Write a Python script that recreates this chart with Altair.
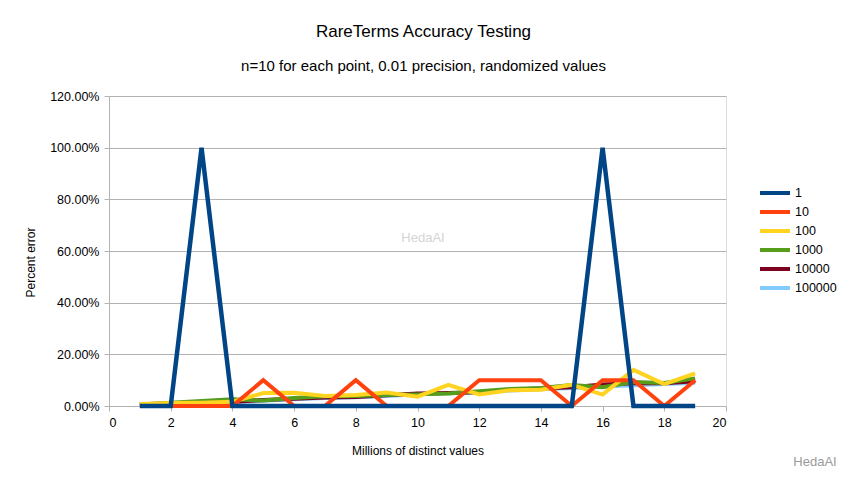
import altair as alt
import pandas as pd

x_vals = list(range(1, 20))
series_names = ["1", "10", "100", "1000", "10000", "100000"]
colors = ["#004586", "#ff420e", "#ffd320", "#579d1c", "#7e0021", "#83caff"]

s1 = [0, 0, 1.0, 0, 0, 0, 0, 0, 0, 0, 0, 0, 0, 0, 0, 1.0, 0, 0, 0]
s10 = [0, 0, 0, 0, 0.10, 0, 0, 0.10, 0, 0, 0, 0.10, 0.10, 0.10, 0, 0.10, 0.10, 0, 0.10]
s100 = [0.008, 0.012, 0.013, 0.016, 0.050, 0.051, 0.039, 0.043, 0.052, 0.036, 0.082, 0.045, 0.061, 0.063, 0.082, 0.044, 0.140, 0.085, 0.126]
s1000 = [0.006, 0.013, 0.019, 0.026, 0.021, 0.031, 0.038, 0.039, 0.043, 0.045, 0.048, 0.057, 0.066, 0.070, 0.081, 0.073, 0.093, 0.089, 0.107]
s10000 = [0.007, 0.010, 0.013, 0.016, 0.023, 0.028, 0.033, 0.035, 0.042, 0.048, 0.050, 0.053, 0.063, 0.068, 0.073, 0.083, 0.088, 0.088, 0.096]
s100000 = [0.005, 0.009, 0.012, 0.015, 0.020, 0.026, 0.031, 0.034, 0.039, 0.045, 0.049, 0.052, 0.060, 0.065, 0.070, 0.075, 0.080, 0.085, 0.090]

all_series = [s1, s10, s100, s1000, s10000, s100000]

rows = []
for name, vals in zip(series_names, all_series):
    for xv, yv in zip(x_vals, vals):
        rows.append({"x": xv, "y": yv, "series": name})
df = pd.DataFrame(rows)

FONT = "Liberation Sans"
GRID = "#b3b3b3"

color_scale = alt.Scale(domain=series_names, range=colors)

common_axis = dict(
    labelFont=FONT,
    labelFontSize=12.5,
    labelColor="#000000",
    titleFont=FONT,
    titleFontSize=12,
    titleFontWeight="normal",
    titleColor="#000000",
    domainColor=GRID,
    tickColor=GRID,
    gridColor=GRID,
    domainWidth=1,
    gridWidth=1,
    tickSize=5,
)

x_enc = alt.X(
    "x:Q",
    scale=alt.Scale(domain=[0, 20], nice=False),
    axis=alt.Axis(
        values=list(range(0, 21, 2)),
        title="Millions of distinct values",
        grid=False,
        labelPadding=5,
        titlePadding=17,
        **common_axis,
    ),
)
y_enc = alt.Y(
    "y:Q",
    scale=alt.Scale(domain=[0, 1.2], nice=False),
    axis=alt.Axis(
        values=[0, 0.2, 0.4, 0.6, 0.8, 1.0, 1.2],
        format=".2%",
        title="Percent error",
        grid=True,
        labelPadding=5,
        titleX=-79,
        titleY=166,
        titleBaseline="middle",
        titleAngle=270,
        **common_axis,
    ),
)
color_enc = alt.Color(
    "series:N",
    scale=color_scale,
    legend=alt.Legend(
        title=None,
        orient="none",
        legendX=655,
        legendY=86,
        symbolType="M-1.67,0H1.67",
        symbolSize=324,
        symbolStrokeWidth=4,
        labelOffset=9,
        rowPadding=0,
        padding=0,
        labelFontSize=12.5,
        labelFont=FONT,
        labelColor="#000000",
    ),
)

layers = []
for name in reversed(series_names):
    layers.append(
        alt.Chart(df)
        .transform_filter(alt.datum.series == name)
        .mark_line(strokeWidth=4.5 if name == "1" else 4, strokeJoin="miter", clip=False)
        .encode(x=x_enc, y=y_enc, color=color_enc)
    )

wm_df = pd.DataFrame({"t": ["HedaAI"]})
wm_center = alt.Chart(wm_df).mark_text(
    font=FONT, fontSize=13, color="#d4d4d4"
).encode(x=alt.value(314), y=alt.value(142), text="t:N")
wm_corner = alt.Chart(wm_df).mark_text(
    font=FONT, fontSize=13, color="#9a9a9a"
).encode(x=alt.value(706), y=alt.value(366), text="t:N")

chart = (
    alt.layer(*layers, wm_center, wm_corner)
    .properties(
        width=617,
        height=310,
        autosize=alt.AutoSizeParams(type="none"),
        padding={"left": 109, "top": 96, "right": 122, "bottom": 71},
        title=alt.TitleParams(
            text="RareTerms Accuracy Testing",
            subtitle="n=10 for each point, 0.01 precision, randomized values",
            font=FONT,
            fontSize=17,
            fontWeight="normal",
            color="#000000",
            subtitleFont=FONT,
            subtitleFontSize=15,
            subtitleColor="#000000",
            subtitlePadding=18,
            anchor="middle",
            offset=15,
            dx=6,
        ),
    )
    .configure_view(stroke=None)
    .configure(background="#ffffff")
)

chart.save("out.html", embed_options={"renderer": "svg", "actions": False})
